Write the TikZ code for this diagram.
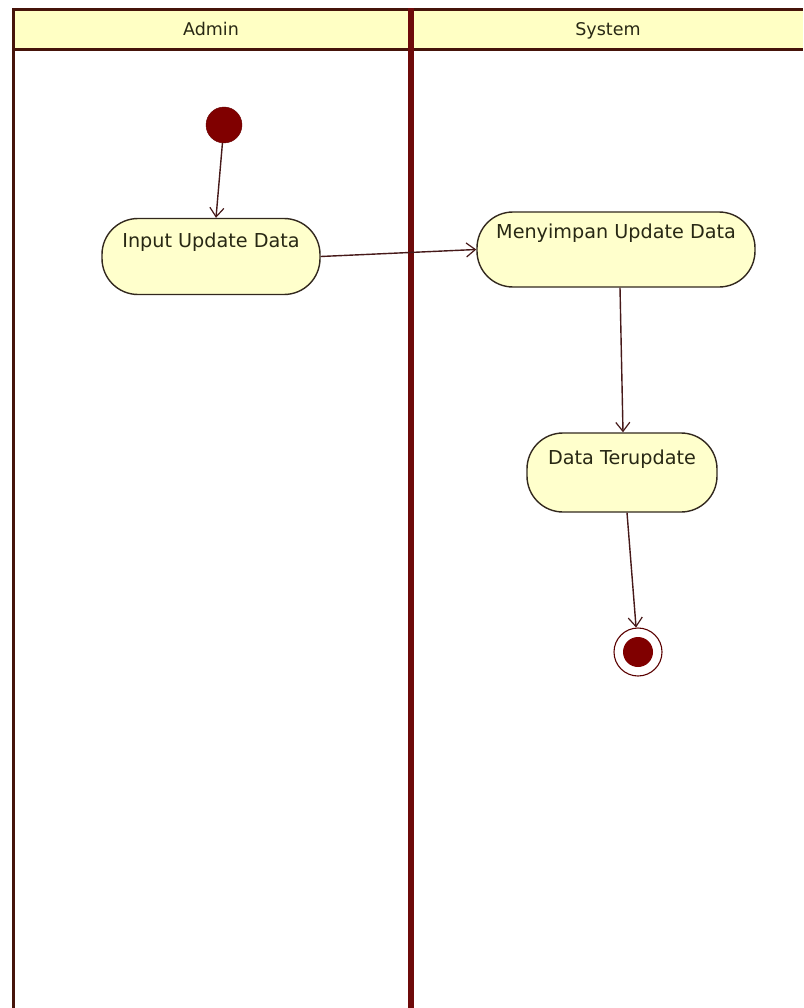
\documentclass[tikz,border=0pt]{standalone}
\usepackage{fontspec}
\setmainfont{DejaVu Sans}
\usetikzlibrary{arrows.meta}
\definecolor{lanered}{RGB}{110,10,10}
\definecolor{lanebrown}{RGB}{70,20,10}
\definecolor{headfill}{RGB}{255,255,196}
\definecolor{actfill}{RGB}{255,255,204}
\definecolor{actline}{RGB}{50,40,30}
\definecolor{flowline}{RGB}{70,25,25}
\definecolor{txt}{RGB}{40,40,20}
\definecolor{dotred}{RGB}{128,0,0}
\begin{document}
\begin{tikzpicture}[x=1pt,y=-1pt,
  lanetitle/.style={font=\fontsize{17.5}{20}\selectfont, text=txt, inner sep=0, anchor=base},
  activity/.style={draw=actline, fill=actfill, line width=1.4pt, rounded corners=36pt,
    inner sep=0, text height=29pt, text depth=47pt, text=txt,
    font=\fontsize{19.2}{22}\selectfont},
  flow/.style={draw=flowline, line width=1.4pt,
    -{Straight Barb[length=9pt,width=14pt,line width=1.2pt]}},
  startdot/.style={circle, fill=dotred, draw=dotred!80!black, minimum size=36pt, inner sep=0},
  endring/.style={circle, fill=white, draw=dotred!70!black, line width=1.1pt, minimum size=48pt, inner sep=0},
  enddot/.style={circle, fill=dotred, minimum size=30pt, inner sep=0}]
\useasboundingbox (0,0) rectangle (803,1008);
\fill[white] (0,0) rectangle (803,1008);

% swimlane header band
\fill[headfill] (13,10) rectangle (803,50);
\draw[lanebrown, line width=3pt] (13,10) -- (803,10);
\draw[lanebrown, line width=3pt] (13,50) -- (803,50);
% lane borders
\draw[lanebrown, line width=3pt] (13,8.5) -- (13,1008);
\draw[lanered, line width=6pt] (411,8.5) -- (411,1008);

\node[lanetitle] (admin) at (211,36) {Admin};
\node[lanetitle] (system) at (608,36) {System};

% activities
\node[startdot] (init) at (224,125) {};
\node[activity, minimum width=218pt] (input) at (211,256.5) {Input Update Data};
\node[activity, minimum width=278pt, text height=27pt, text depth=48pt] (save) at (616,249.5) {Menyimpan Update Data};
\node[activity, minimum width=190pt, text height=31pt, text depth=48pt] (done) at (622,472.5) {Data Terupdate};
\node[endring] (final) at (638,652) {};
\node[enddot] (finaldot) at (final) {};

% control flows
\draw[flow] (init) -- ([xshift=5pt]input.north);
\draw[flow] (input.east) -- (save.west);
\draw[flow] ([xshift=4pt]save.south) -- ([xshift=1pt]done.north);
\draw[flow] ([xshift=5pt]done.south) -- (final);
\end{tikzpicture}
\end{document}
